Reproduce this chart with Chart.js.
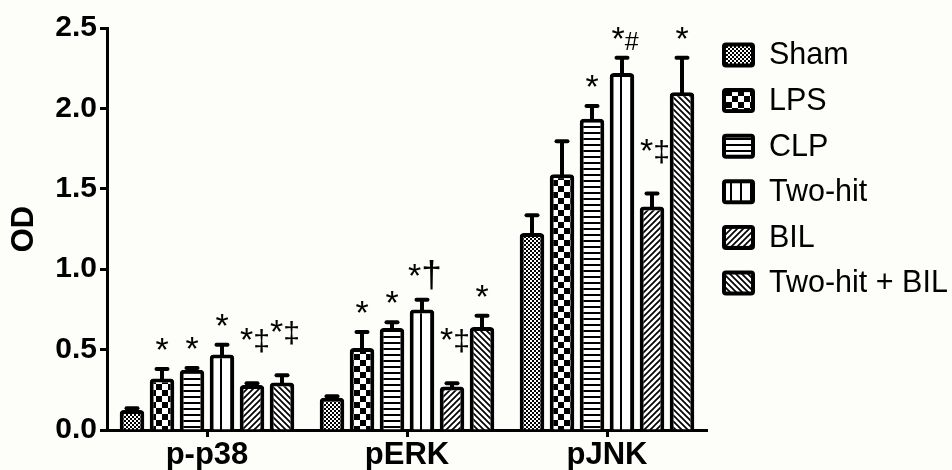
<!DOCTYPE html>
<html><head><meta charset="utf-8">
<script src="https://cdn.jsdelivr.net/npm/chart.js@4.4.0/dist/chart.umd.min.js"></script>
<style>html,body{margin:0;padding:0;background:#fdfdfa;} #wrap{width:952px;height:470px;position:relative;}</style>
</head><body><div id="wrap"><canvas id="c" width="952" height="470"></canvas></div>
<script>
const categories = ['p-p38', 'pERK', 'pJNK'];
const groups = ['Sham', 'LPS', 'CLP', 'Two-hit', 'BIL', 'Two-hit + BIL'];
const shamValues = [0.125, 0.20, 1.225];
const shamErrors = [0.01, 0.01, 0.11];
const lpsValues = [0.32, 0.51, 1.59];
const lpsErrors = [0.06, 0.10, 0.205];
const clpValues = [0.375, 0.635, 1.935];
const clpErrors = [0.01, 0.035, 0.08];
const twoHitValues = [0.47, 0.75, 2.22];
const twoHitErrors = [0.06, 0.06, 0.095];
const bilValues = [0.28, 0.27, 1.39];
const bilErrors = [0.01, 0.02, 0.08];
const twoHitBilValues = [0.295, 0.64, 2.10];
const twoHitBilErrors = [0.045, 0.07, 0.215];
const shamMarks = ['', '', ''];
const lpsMarks = ['*', '*', ''];
const clpMarks = ['*', '*', '*'];
const twoHitMarks = ['*', '*†', '*#'];
const bilMarks = ['*‡', '*‡', '*‡'];
const twoHitBilMarks = ['*‡', '*', '*'];
const yTicks = [0, 0.5, 1.0, 1.5, 2.0, 2.5];
const yTitle = 'OD';

const FONT = '"Liberation Sans", Arial, Helvetica, sans-serif';
const markSize = { '*': 34, '‡': 30, '†': 37, '#': 25 };

function makePattern(kind) {
  const c = document.createElement('canvas');
  const g = c.getContext('2d');
  let s;
  if (kind === 'fine') {
    s = 4; c.width = s; c.height = s;
    g.fillStyle = '#fff'; g.fillRect(0, 0, s, s);
    g.fillStyle = '#000'; g.fillRect(0, 0, 2, 2); g.fillRect(2, 2, 2, 2);
  } else if (kind === 'check') {
    s = 12; c.width = s; c.height = s;
    g.fillStyle = '#fff'; g.fillRect(0, 0, s, s);
    g.fillStyle = '#000'; g.fillRect(0, 0, 6, 6); g.fillRect(6, 6, 6, 6);
  } else if (kind === 'h') {
    c.width = 6; c.height = 6;
    g.fillStyle = '#fff'; g.fillRect(0, 0, 6, 6);
    g.fillStyle = '#000'; g.fillRect(0, 0, 6, 2);
  } else if (kind === 'v') {
    c.width = 10; c.height = 10;
    g.fillStyle = '#fff'; g.fillRect(0, 0, 10, 10);
    g.fillStyle = '#000'; g.fillRect(0, 0, 2, 10);
  } else {
    s = 6; c.width = s; c.height = s;
    g.fillStyle = '#fff'; g.fillRect(0, 0, s, s);
    g.strokeStyle = '#000'; g.lineWidth = 1.7;
    g.beginPath();
    if (kind === 'up') {
      g.moveTo(-1, s + 1); g.lineTo(s + 1, -1);
      g.moveTo(-1, 1); g.lineTo(1, -1);
      g.moveTo(s - 1, s + 1); g.lineTo(s + 1, s - 1);
    } else {
      g.moveTo(-1, -1); g.lineTo(s + 1, s + 1);
      g.moveTo(s - 1, -1); g.lineTo(s + 1, 1);
      g.moveTo(-1, s - 1); g.lineTo(1, s + 1);
    }
    g.stroke();
  }
  return g.createPattern(c, 'repeat');
}

const patternKinds = ['fine', 'check', 'h', 'v', 'up', 'down'];
const valuesList = [shamValues, lpsValues, clpValues, twoHitValues, bilValues, twoHitBilValues];
const errorsList = [shamErrors, lpsErrors, clpErrors, twoHitErrors, bilErrors, twoHitBilErrors];
const marksList = [shamMarks, lpsMarks, clpMarks, twoHitMarks, bilMarks, twoHitBilMarks];
const patterns = patternKinds.map(makePattern);

function drawMark(ctx, m, cx, baseline) {
  const chars = Array.from(m);
  const widths = chars.map(ch => { ctx.font = (markSize[ch] || 30) + 'px ' + FONT; return ctx.measureText(ch).width; });
  const total = widths.reduce((a, b) => a + b, 0);
  let x = cx - total / 2;
  ctx.textAlign = 'left'; ctx.textBaseline = 'alphabetic'; ctx.fillStyle = '#000';
  chars.forEach((ch, k) => {
    ctx.font = (markSize[ch] || 30) + 'px ' + FONT;
    ctx.fillText(ch, x, baseline);
    x += widths[k];
  });
}

const errorPlugin = {
  id: 'errorBars',
  afterDatasetsDraw(chart) {
    const ctx = chart.ctx, ys = chart.scales.y;
    chart.data.datasets.forEach((ds, i) => {
      const meta = chart.getDatasetMeta(i);
      meta.data.forEach((bar, j) => {
        const v = ds.data[j], e = ds.errors[j];
        const top = ys.getPixelForValue(v + e);
        ctx.save();
        ctx.strokeStyle = '#000'; ctx.lineWidth = 4; ctx.lineCap = 'butt';
        ctx.beginPath(); ctx.moveTo(bar.x, bar.y + 2); ctx.lineTo(bar.x, top); ctx.stroke();
        ctx.lineCap = 'round';
        ctx.beginPath(); ctx.moveTo(bar.x - 5.5, top); ctx.lineTo(bar.x + 5.5, top); ctx.stroke();
        const m = ds.marks[j];
        if (m) {
          const lift = m.includes('‡') ? 30 : (m.includes('†') ? 11 : 6);
          const dx = Array.from(m).length > 1 ? 3 : 0;
          drawMark(ctx, m, bar.x + dx, top - 2 - lift);
        }
        ctx.restore();
      });
    });
  }
};

const legendPlugin = {
  id: 'patLegend',
  afterDraw(chart) {
    const ctx = chart.ctx;
    chart.data.datasets.forEach((ds, i) => {
      const cy = 55 + 45.6 * i;
      const x = 722, w = 33, h = 25, y = cy - h / 2;
      ctx.save();
      ctx.fillStyle = '#000';
      ctx.beginPath(); ctx.roundRect(x, y, w, h, 4); ctx.fill();
      ctx.fillStyle = ds.backgroundColor;
      ctx.fillRect(x + 4, y + 4, w - 8, h - 8);
      ctx.fillStyle = '#000';
      ctx.font = '30.5px ' + FONT;
      ctx.textAlign = 'left'; ctx.textBaseline = 'middle';
      ctx.fillText(ds.label, 769, cy + 1);
      ctx.restore();
    });
  }
};

const bgPlugin = {
  id: 'bg',
  beforeDraw(chart) {
    const ctx = chart.ctx;
    ctx.save(); ctx.fillStyle = '#fdfdfa'; ctx.fillRect(0, 0, chart.width, chart.height); ctx.restore();
  }
};

new Chart(document.getElementById('c'), {
  type: 'bar',
  data: {
    labels: categories,
    datasets: groups.map((name, i) => ({
      label: name,
      data: valuesList[i],
      errors: errorsList[i],
      marks: marksList[i],
      backgroundColor: patterns[i],
      borderColor: '#000',
      borderWidth: 4,
      borderSkipped: 'bottom',
      borderRadius: { topLeft: 4, topRight: 4, bottomLeft: 0, bottomRight: 0 },
      categoryPercentage: 0.9,
      barPercentage: 0.82
    }))
  },
  options: {
    responsive: false,
    animation: false,
    devicePixelRatio: 1,
    layout: { padding: { left: 6, right: 245, top: 28, bottom: 0 } },
    plugins: { legend: { display: false }, tooltip: { enabled: false } },
    scales: {
      x: {
        offset: true,
        grid: { display: true, drawOnChartArea: false, offset: false, tickLength: 7, tickWidth: 3, tickColor: '#000' },
        border: { display: true, width: 3, color: '#000' },
        ticks: { color: '#000', padding: 0, font: { family: FONT, size: 31, weight: 'bold' } },
        afterFit(s) { s.height = 40; }
      },
      y: {
        min: 0, max: 2.5,
        afterBuildTicks(s) { s.ticks = yTicks.map(v => ({ value: v })); },
        ticks: { color: '#000', padding: 3, font: { family: FONT, size: 30, weight: 'bold' }, callback: v => Number(v).toFixed(1) },
        grid: { display: true, drawOnChartArea: false, tickLength: 7, tickWidth: 3, tickColor: '#000' },
        border: { display: true, width: 3, color: '#000' },
        title: { display: true, text: yTitle, color: '#000', padding: 0, font: { family: FONT, size: 31, weight: 'bold' } },
        afterFit(s) { s.width = 101; }
      }
    }
  },
  plugins: [bgPlugin, errorPlugin, legendPlugin]
});
</script>
</body></html>
